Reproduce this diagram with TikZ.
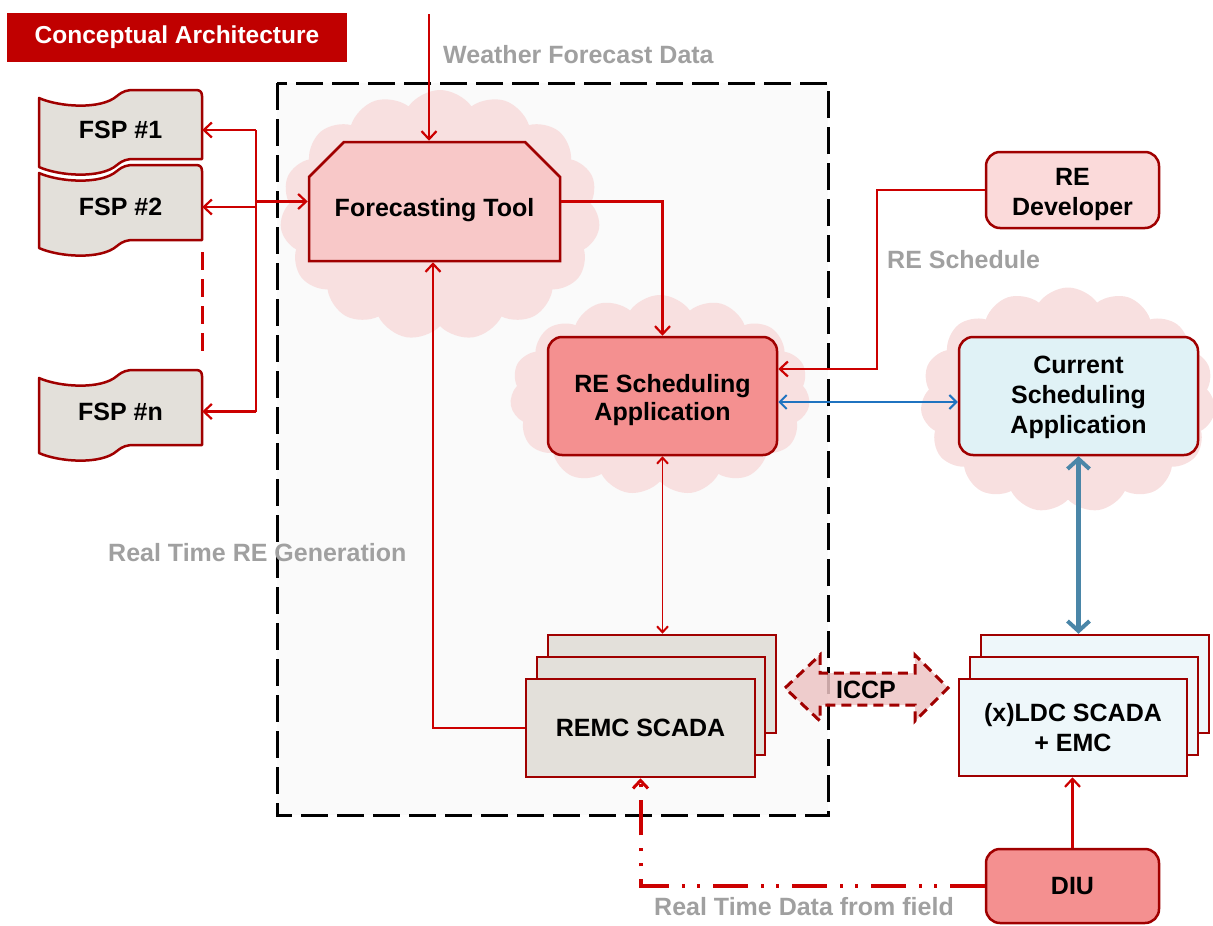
\documentclass[tikz,border=0pt]{standalone}
\usepackage{fontspec}
\setmainfont{Liberation Sans}
\usetikzlibrary{arrows.meta,shapes.misc,shapes.symbols}
\definecolor{bord}{HTML}{A00000}
\definecolor{ared}{HTML}{CC0000}
\definecolor{gtxt}{HTML}{A0A0A0}
\definecolor{fgray}{HTML}{E3E0DA}
\definecolor{fpink}{HTML}{F8C8C8}
\definecolor{fsalmon}{HTML}{F49090}
\definecolor{flpink}{HTML}{FBDADA}
\definecolor{fblue}{HTML}{E0F2F6}
\definecolor{fbluetwo}{HTML}{EEF7FA}
\definecolor{titred}{HTML}{C00000}
\definecolor{ablue}{HTML}{1F73C0}
\definecolor{sblue}{HTML}{4A86A8}
\definecolor{cloudc}{HTML}{F8E0E0}
\definecolor{iccpf}{HTML}{EDC4C4}
\newcommand\fsptape[3]{%
\draw[fill=fgray, draw=bord, line width=2.5pt, line join=round]
 (#1,#2+8) .. controls (#1+20,#2+17) and (#1+62,#2+20) .. (#1+78,#2+6)
 .. controls (#1+84,#2+1) and (#1+88,#2) .. (#1+96,#2) -- (196,#2)
 .. controls (200,#2) and (202,#2+2) .. (202,#2+6) -- (202,#2+#3)
 -- (#1+96,#2+#3) .. controls (#1+88,#2+#3) and (#1+84,#2+#3+1) .. (#1+78,#2+#3+6)
 .. controls (#1+62,#2+#3+20) and (#1+20,#2+#3+17) .. (#1,#2+#3+8) -- cycle;}
\begin{document}
\begin{tikzpicture}[x=1pt,y=-1pt,
  mytxt/.style={font=\fontsize{25}{30}\selectfont\bfseries, align=center, text=black},
  graylbl/.style={font=\fontsize{25}{30}\selectfont\bfseries, text=gtxt, inner sep=0pt, anchor=west},
  mybox/.style={mytxt, draw=bord, line width=2.5pt, inner sep=0pt},
  myrbox/.style={mybox, rounded corners=14pt},
  cloudbg/.style={cloud, cloud puffs=15, cloud puff arc=110, fill=cloudc, draw=none, inner sep=0pt},
  redarr/.style={draw=ared, line width=2.2pt, -{Straight Barb[length=8pt,width=15pt,line width=2.2pt]}},
  redline/.style={draw=ared, line width=2.2pt},
  bluearr/.style={draw=ablue, line width=2pt, {Straight Barb[length=7pt,width=14pt,line width=2pt]}-{Straight Barb[length=7pt,width=14pt,line width=2pt]}},
  thickarr/.style={draw=sblue, line width=5pt, {Straight Barb[length=10pt,width=22pt,line width=4pt]}-{Straight Barb[length=10pt,width=22pt,line width=4pt]}}
]
\useasboundingbox (0,0) rectangle (1213,926);

% title
\node[fill=titred, minimum width=340pt, minimum height=49pt, inner sep=0pt, text=white,
  font=\fontsize{24.5}{28}\selectfont\bfseries] (title) at (177,37.5) {Conceptual Architecture};

% dashed area background
\fill[black!2] (277,83) rectangle (828,815);

% clouds
\node[cloudbg, minimum width=320pt, minimum height=250pt] (cloudft) at (440,215) {};
\node[cloudbg, minimum width=300pt, minimum height=200pt] (cloudrs) at (660,395) {};
\node[cloudbg, minimum width=295pt, minimum height=225pt] (cloudcur) at (1068,400) {};

% dashed border
\draw[black, line width=3pt, dash pattern=on 27pt off 9pt] (277,83) rectangle (828,815);

% FSP tapes
\fsptape{39}{90}{69}
\fsptape{39}{165}{75}
\fsptape{39}{370}{75}
\node[mytxt, minimum width=163pt, minimum height=80pt, inner sep=0pt] (fsp1) at (120.5,130) {FSP \#1};
\node[mytxt, minimum width=163pt, minimum height=84pt, inner sep=0pt] (fsp2) at (120.5,207) {FSP \#2};
\node[mytxt, minimum width=163pt, minimum height=83pt, inner sep=0pt] (fspn) at (120.5,411.5) {FSP \#n};

% main nodes
\node[mybox, chamfered rectangle, chamfered rectangle corners={north west,north east},
  chamfered rectangle xsep=20pt, chamfered rectangle ysep=20pt, text height=30pt, text depth=0pt,
  fill=fpink, minimum width=251pt, minimum height=119pt] (ft) at (434.5,201.5) {Forecasting Tool};
\node[myrbox, fill=fsalmon, minimum width=229pt, minimum height=118pt,
  font=\fontsize{25}{28}\selectfont\bfseries] (rs) at (662.5,396) {\rule{0pt}{25.3pt}RE Scheduling\\Application};
\node[myrbox, fill=flpink, minimum width=173pt, minimum height=76pt] (dev) at (1072.5,190) {\rule{0pt}{25.3pt}RE\\Developer};
\node[myrbox, fill=fblue, minimum width=239pt, minimum height=118pt] (cur) at (1078.5,396) {\rule{0pt}{20pt}Current\\Scheduling\\Application};

\node[mybox, fill=fgray, minimum width=228pt, minimum height=98pt] (remcc) at (662,684) {};
\node[mybox, fill=fgray, minimum width=228pt, minimum height=98pt] (remcb) at (651,706) {};
\node[mybox, fill=fgray, minimum width=229pt, minimum height=98pt] (remc) at (640.5,728) {REMC SCADA};

\node[mybox, fill=fbluetwo, minimum width=228pt, minimum height=98pt] (ldcc) at (1095,684) {};
\node[mybox, fill=fbluetwo, minimum width=228pt, minimum height=98pt] (ldcb) at (1084,706) {};
\node[mybox, fill=fbluetwo, minimum width=228pt, minimum height=97pt] (ldc) at (1073,727.5) {(x)LDC SCADA\\+ EMC};

\node[myrbox, fill=fsalmon, minimum width=173pt, minimum height=74pt] (diu) at (1072.5,886) {DIU};

% ICCP double arrow
\draw[fill=iccpf, fill opacity=0.85, draw=bord, line width=3pt, dash pattern=on 10pt off 6pt, line join=miter]
  (785,688) -- (820,655) -- (820,673) -- (915,673) -- (915,655) -- (948,688)
  -- (915,721) -- (915,705) -- (820,705) -- (820,721) -- cycle;
\node[mytxt, inner sep=0pt] (iccp) at (866,690) {ICCP};

% labels
\node[graylbl] (lblwx) at (443,55) {Weather Forecast Data};
\node[graylbl] (lblsch) at (887,260) {RE Schedule};
\node[graylbl] (lblrt) at (108,553) {Real Time RE Generation};
\node[graylbl] (lblfield) at (654,907) {Real Time Data from field};

% connectors
\coordinate (wtop) at (429,14);
\draw[redarr] (wtop) -- (wtop |- ft.north);

\coordinate (bus) at (256,0);
\draw[redline] (fsp1.east -| bus) -- (fspn.east -| bus);
\draw[redarr] (fsp1.east -| bus) -- (fsp1.east);
\draw[redarr] (fsp2.east -| bus) -- (fsp2.east);
\draw[redarr] (fspn.east -| bus) -- (fspn.east);
\draw[redarr] (ft.west -| bus) -- (ft.west);
\draw[draw=ared, line width=3pt, dash pattern=on 18pt off 9pt, shorten <=3pt, shorten >=12pt]
  (fsp2.south east) -- (fspn.north east);

\draw[redarr] (ft.east) -| (rs.north);
\draw[redarr] (remc.west) -| ([xshift=-1.5pt]ft.south);
\draw[redarr] (dev.west) -- ++(-108,0) |- ([yshift=27pt]rs.east);
\draw[redarr, {Straight Barb[length=6pt,width=11pt,line width=2pt]}-{Straight Barb[length=6pt,width=11pt,line width=2pt]}, line width=1.8pt]
  (rs.south) -- (rs.south |- remcc.north);
\draw[bluearr] ([yshift=-6pt]rs.east) -- ([yshift=-6pt]cur.west);
\draw[thickarr] (cur.south) -- (cur.south |- ldcc.north);
\draw[redarr, line width=3pt] (diu.north) -- (diu.north |- ldc.south);
\draw[draw=ared, line width=4pt, dash pattern=on 35pt off 13pt on 3pt off 12pt on 3pt off 13pt,
  -{Straight Barb[length=8pt,width=15pt,line width=3pt]}] (diu.west) -| (remc.south);
\end{tikzpicture}
\end{document}
